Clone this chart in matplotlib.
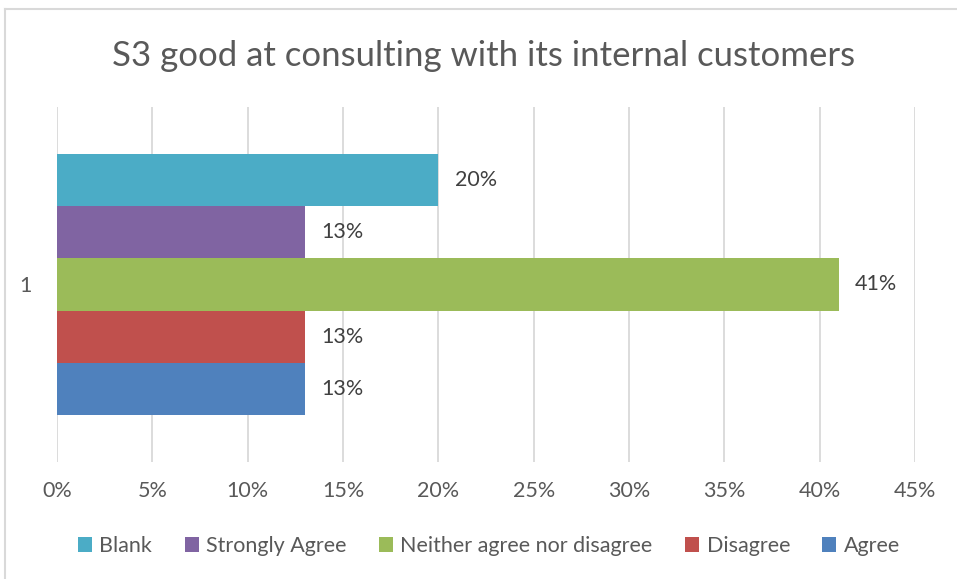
import matplotlib.pyplot as plt
from matplotlib.lines import Line2D

plt.rcParams['font.family'] = ['Lato', 'DejaVu Sans']

# survey responses, top bar first
labels = ['Blank', 'Strongly Agree', 'Neither agree nor disagree', 'Disagree', 'Agree']
values = [0.20, 0.13, 0.41, 0.13, 0.13]
colors = ['#4BACC6', '#8064A2', '#9BBB59', '#C0504D', '#4F81BD']
xticks = [0, 0.05, 0.10, 0.15, 0.20, 0.25, 0.30, 0.35, 0.40, 0.45]

text_col = '#595959'
fs = 15.5

fig = plt.figure(figsize=(9.57, 5.79), dpi=100)
ax = fig.add_axes([57 / 957, 1 - 462 / 579, 858 / 957, 355 / 579])

n = len(labels)
for i, (lab, v, c) in enumerate(zip(labels, values, colors)):
    y = n - 1 - i
    ax.barh(y, v, height=1.0, color=c, label=lab, zorder=2)
    ax.text(v + 0.0085, y, f'{v:.0%}', va='center', ha='left',
            fontsize=fs, color='#404040')

ax.set_xlim(0, 0.45)
ax.set_ylim(-1.40, 5.40)
ax.set_xticks(xticks)
ax.set_xticklabels([f'{t:.0%}' for t in xticks])
ax.set_yticks([2])
ax.set_yticklabels(['1'])
ax.tick_params(axis='x', length=0, pad=14, labelsize=fs, labelcolor=text_col)
ax.tick_params(axis='y', length=0, pad=18, labelsize=fs, labelcolor=text_col)
ax.grid(axis='x', color='#D9D9D9', linewidth=1.3, zorder=0)
for s in ax.spines.values():
    s.set_visible(False)

fig.text(484 / 957, 1 - 56 / 579, 'S3 good at consulting with its internal customers',
         ha='center', va='center', fontsize=25, color=text_col)

leg = fig.legend(loc='center', bbox_to_anchor=(489 / 957, 1 - 546 / 579), ncol=5,
                 frameon=False, fontsize=fs, handlelength=0.65, handleheight=0.65,
                 handletextpad=0.35, columnspacing=1.5, labelcolor=text_col)

# chart area border
fig.add_artist(Line2D([5 / 957, 5 / 957], [0, 1 - 9 / 579], transform=fig.transFigure,
                      color='#D9D9D9', linewidth=1.5))
fig.add_artist(Line2D([5 / 957, 1], [1 - 9 / 579, 1 - 9 / 579], transform=fig.transFigure,
                      color='#D9D9D9', linewidth=1.5))

fig.savefig('out.png', dpi=100)
